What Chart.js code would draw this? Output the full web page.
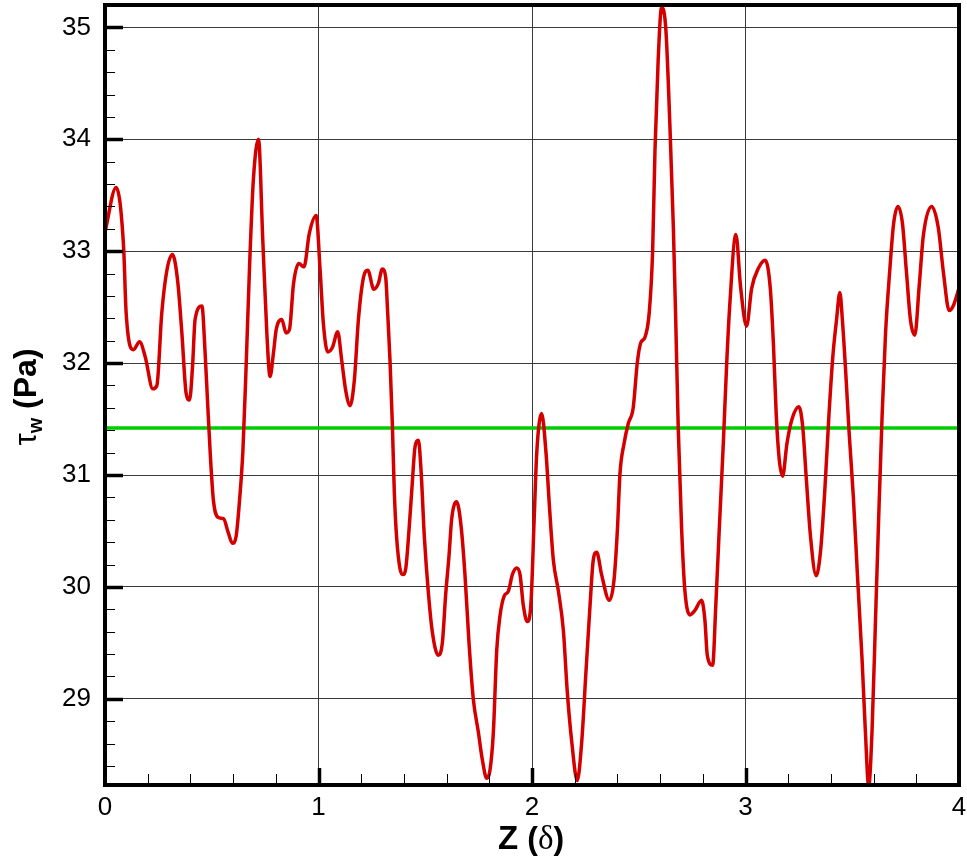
<!DOCTYPE html>
<html>
<head>
<meta charset="utf-8">
<script src="https://cdn.jsdelivr.net/npm/chart.js@4/dist/chart.umd.min.js"></script>
<style>
  body { margin: 0; background: #fff; }
  canvas { display: block; }
</style>
</head>
<body>
<canvas id="wallShear" width="967" height="863"></canvas>
<script>
// spanwise position Z/delta and wall shear stress (Pa)
const zValues = [
  0.000, 0.052, 0.087, 0.099, 0.133, 0.162, 0.188, 0.224, 0.243, 0.266,
  0.290, 0.316, 0.340, 0.360, 0.380, 0.396, 0.410, 0.422, 0.454, 0.469,
  0.480, 0.493, 0.508, 0.531, 0.555, 0.578, 0.597, 0.614, 0.630, 0.646,
  0.661, 0.677, 0.695, 0.719, 0.739, 0.758, 0.773, 0.789, 0.802, 0.828,
  0.848, 0.864, 0.883, 0.908, 0.932, 0.957, 0.989, 1.007, 1.023, 1.043,
  1.065, 1.090, 1.109, 1.128, 1.148, 1.168, 1.187, 1.210, 1.231, 1.259,
  1.280, 1.299, 1.315, 1.324, 1.335, 1.346, 1.355, 1.366, 1.382, 1.395,
  1.409, 1.424, 1.440, 1.452, 1.468, 1.480, 1.496, 1.515, 1.533, 1.561,
  1.580, 1.596, 1.611, 1.624, 1.647, 1.668, 1.686, 1.705, 1.725, 1.749,
  1.767, 1.788, 1.803, 1.819, 1.835, 1.850, 1.870, 1.889, 1.908, 1.928,
  1.944, 1.959, 1.978, 1.995, 2.011, 2.022, 2.045, 2.066, 2.081, 2.100,
  2.123, 2.147, 2.165, 2.186, 2.212, 2.233, 2.253, 2.272, 2.287, 2.303,
  2.326, 2.362, 2.384, 2.400, 2.412, 2.431, 2.451, 2.474, 2.493, 2.509,
  2.529, 2.549, 2.565, 2.576, 2.591, 2.607, 2.627, 2.646, 2.662, 2.674,
  2.685, 2.701, 2.716, 2.740, 2.763, 2.794, 2.810, 2.821, 2.846, 2.861,
  2.877, 2.896, 2.912, 2.927, 2.955, 2.977, 3.005, 3.029, 3.061, 3.092,
  3.116, 3.131, 3.144, 3.158, 3.174, 3.194, 3.218, 3.250, 3.268, 3.284,
  3.305, 3.331, 3.352, 3.372, 3.391, 3.410, 3.426, 3.442, 3.454, 3.470,
  3.486, 3.505, 3.525, 3.546, 3.561, 3.577, 3.593, 3.609, 3.624, 3.640,
  3.656, 3.675, 3.694, 3.714, 3.735, 3.754, 3.773, 3.793, 3.814, 3.833,
  3.872, 3.903, 3.927, 3.954, 3.975, 4.000
];
const tauValues = [
  33.17, 33.57, 33.04, 32.45, 32.12, 32.19, 32.06, 31.77, 31.80, 32.45,
  32.83, 32.97, 32.74, 32.27, 31.73, 31.67, 31.97, 32.39, 32.51, 32.09,
  31.67, 31.19, 30.77, 30.62, 30.61, 30.48, 30.39, 30.45, 30.77, 31.22,
  31.97, 32.86, 33.64, 34.00, 33.10, 32.27, 31.88, 32.09, 32.30, 32.39,
  32.27, 32.30, 32.71, 32.89, 32.86, 33.16, 33.32, 32.85, 32.35, 32.10,
  32.14, 32.28, 32.02, 31.75, 31.62, 31.85, 32.39, 32.76, 32.83, 32.66,
  32.71, 32.84, 32.76, 32.45, 32.02, 31.45, 30.85, 30.44, 30.16, 30.11,
  30.17, 30.51, 30.95, 31.25, 31.31, 31.05, 30.44, 29.94, 29.60, 29.39,
  29.50, 29.94, 30.27, 30.61, 30.76, 30.54, 30.11, 29.50, 29.00, 28.70,
  28.46, 28.29, 28.36, 28.70, 29.44, 29.74, 29.92, 29.96, 30.11, 30.17,
  30.11, 29.84, 29.69, 29.85, 30.65, 31.19, 31.55, 31.19, 30.74, 30.24,
  29.97, 29.61, 29.07, 28.62, 28.27, 28.62, 29.25, 29.84, 30.24, 30.31,
  30.11, 29.88, 30.06, 30.51, 31.01, 31.28, 31.46, 31.60, 32.00, 32.18,
  32.23, 32.45, 33.00, 33.90, 34.71, 35.18, 34.98, 34.12, 33.22, 32.32,
  31.42, 30.51, 29.97, 29.75, 29.79, 29.88, 29.70, 29.39, 29.30, 29.84,
  30.51, 31.28, 32.00, 32.54, 33.15, 32.68, 32.33, 32.67, 32.85, 32.92,
  32.67, 32.16, 31.54, 31.14, 30.99, 31.28, 31.50, 31.61, 31.43, 30.99,
  30.44, 30.10, 30.33, 30.88, 31.54, 32.08, 32.38, 32.63, 32.38, 31.90,
  31.36, 30.81, 30.08, 29.35, 28.73, 28.22, 28.73, 29.71, 30.63, 31.54,
  32.27, 32.81, 33.25, 33.40, 33.25, 32.81, 32.38, 32.25, 32.70, 33.14,
  33.40, 33.21, 32.81, 32.47, 32.52, 32.67
];
const meanTau = 31.42;
const xTicks = [0, 1, 2, 3, 4];
const yTicks = [29, 30, 31, 32, 33, 34, 35];
const xRange = [0, 4];
const yRange = [28.23, 35.2];

const tickFont = { family: '"Liberation Sans", Arial, sans-serif', size: 26 };

// keep the plot frame where it is, whatever the label overhang
const noPad = s => {
  s.paddingTop = 0; s.paddingBottom = 0; s.paddingLeft = 0; s.paddingRight = 0;
};

// tecplot style frame with inward major/minor ticks
const frameTicks = {
  id: 'frameTicks',
  afterDatasetsDraw(chart) {
    const { ctx, chartArea: a, scales: { x, y } } = chart;
    ctx.save();
    ctx.strokeStyle = '#000';
    for (let k = Math.ceil(yRange[0] * 5); k <= Math.floor(yRange[1] * 5); k++) {
      const py = Math.round(y.getPixelForValue(k / 5)) + 0.5;
      const major = k % 5 === 0;
      ctx.lineWidth = major ? 3.5 : 1;
      ctx.beginPath();
      ctx.moveTo(a.left, py);
      ctx.lineTo(a.left + (major ? 18 : 10), py);
      ctx.stroke();
    }
    for (let k = xRange[0] * 5 + 1; k < xRange[1] * 5; k++) {
      const px = Math.round(x.getPixelForValue(k / 5)) + 0.5;
      const major = k % 5 === 0;
      ctx.lineWidth = major ? 3.5 : 1;
      ctx.beginPath();
      ctx.moveTo(px, a.bottom);
      ctx.lineTo(px, a.bottom - (major ? 17 : 11));
      ctx.stroke();
    }
    ctx.lineWidth = 4;
    ctx.strokeRect(a.left, a.top, a.right - a.left, a.bottom - a.top);
    ctx.restore();
  },
  afterDraw(chart) {
    const ctx = chart.ctx;
    const drawParts = (parts, cx, baseY) => {
      let w = 0;
      parts.forEach(p => { ctx.font = p[1]; w += ctx.measureText(p[0]).width; });
      let cur = cx - w / 2;
      parts.forEach(p => {
        ctx.font = p[1];
        ctx.fillText(p[0], cur, baseY + (p[2] || 0));
        cur += ctx.measureText(p[0]).width;
      });
    };
    ctx.save();
    ctx.fillStyle = '#000';
    ctx.textBaseline = 'alphabetic';
    ctx.textAlign = 'left';
    const sansB = '"Liberation Sans", Arial, sans-serif';
    drawParts([
      ['Z ', 'bold 33px ' + sansB],
      ['(', 'bold 32px ' + sansB],
      ['\u03b4', '33px "Liberation Serif", serif'],
      [')', 'bold 32px ' + sansB]
    ], 531, 849);
    ctx.translate(36, 397);
    ctx.rotate(-Math.PI / 2);
    drawParts([
      ['\u03c4', '31px ' + sansB],
      ['w', 'bold 20px ' + sansB, 6],
      [' (Pa)', 'bold 32px ' + sansB]
    ], 0, 0);
    ctx.restore();
  }
};

const ctx = document.getElementById('wallShear').getContext('2d');
const chart = new Chart(ctx, {
  type: 'line',
  data: {
    datasets: [
      {
        data: zValues.map((z, i) => ({ x: z, y: tauValues[i] })),
        borderColor: '#d40000',
        borderWidth: 3.5,
        pointRadius: 0,
        cubicInterpolationMode: 'monotone'
      },
      {
        data: [{ x: xRange[0], y: meanTau }, { x: xRange[1], y: meanTau }],
        borderColor: '#00cc00',
        borderWidth: 3.5,
        pointRadius: 0
      }
    ]
  },
  options: {
    responsive: false,
    animation: false,
    devicePixelRatio: 1,
    layout: { padding: { top: 5, right: 8, left: 0, bottom: 0 } },
    plugins: { legend: { display: false }, tooltip: { enabled: false } },
    scales: {
      x: {
        type: 'linear',
        min: xRange[0],
        max: xRange[1],
        afterBuildTicks: s => { s.ticks = xTicks.map(v => ({ value: v })); },
        afterFit: s => { s.height = 78; noPad(s); },
        grid: { color: '#3a3a3a', lineWidth: 1, drawTicks: false },
        border: { display: false },
        ticks: { font: tickFont, color: '#000', padding: 7, maxRotation: 0 }
      },
      y: {
        type: 'linear',
        min: yRange[0],
        max: yRange[1],
        afterBuildTicks: s => { s.ticks = yTicks.map(v => ({ value: v })); },
        afterFit: s => { s.width = 105; noPad(s); },
        grid: { color: '#3a3a3a', lineWidth: 1, drawTicks: false },
        border: { display: false },
        ticks: { font: tickFont, color: '#000', padding: 14 }
      }
    }
  },
  plugins: [frameTicks]
});
</script>
</body>
</html>
